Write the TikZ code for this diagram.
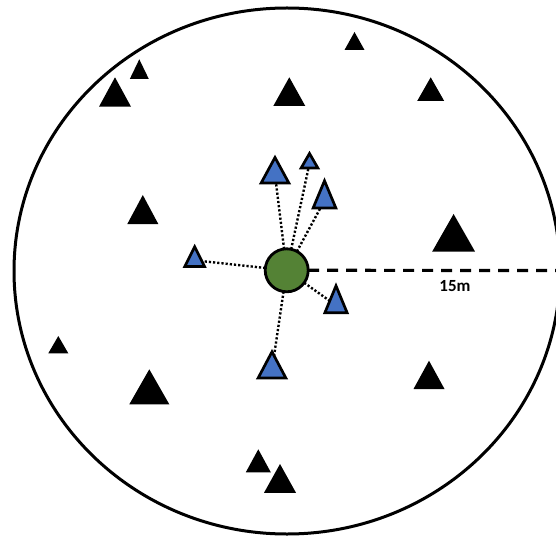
\documentclass[tikz,border=0pt]{standalone}
\usepackage{fontspec}
\setmainfont{Carlito}
\usetikzlibrary{shapes.geometric}
\definecolor{triblue}{HTML}{4472C4}
\definecolor{hubgreen}{HTML}{548235}
\tikzset{
  tri/.style 2 args={isosceles triangle, isosceles triangle stretches,
    shape border rotate=90, minimum width=#1, minimum height=#2,
    inner sep=0pt, outer sep=0pt, anchor=apex},
  sensor/.style 2 args={tri={#1}{#2}, fill=triblue, draw=black, line width=2.7pt, miter limit=10},
  tree/.style 2 args={tri={#1}{#2}, fill=black},
  hub/.style={circle, fill=hubgreen, draw=black, line width=2.8pt, minimum size=43pt, inner sep=0pt, outer sep=0pt},
  link/.style={line width=2.4pt, dash pattern=on 2.2pt off 2pt},
  radius line/.style={line width=3.2pt, dash pattern=on 11pt off 8pt},
  boundary/.style={line width=3pt},
}
\begin{document}
\begin{tikzpicture}[x=1pt, y=-1pt]
\useasboundingbox (0,0) rectangle (556,537);
\fill[white] (0,0) rectangle (556,537);
% plot boundary
\draw[boundary] (287,271) ellipse [x radius=273pt, y radius=263pt];
% trees
\node[tree={20pt}{18pt}] (k1) at (354.5,32) {};
\node[tree={19pt}{19.7pt}] (k2) at (139.3,59.3) {};
\node[tree={32pt}{29.4pt}] (k3) at (115,77.3) {};
\node[tree={32pt}{28.7pt}] (k4) at (289.3,77.3) {};
\node[tree={27pt}{23.7pt}] (k5) at (430.7,77.3) {};
\node[tree={31pt}{29pt}] (k6) at (142.8,195) {};
\node[tree={43pt}{37.7pt}] (k7) at (453.6,214) {};
\node[tree={20pt}{17.3pt}] (k8) at (58.3,336) {};
\node[tree={40pt}{35pt}] (k9) at (149.3,369.3) {};
\node[tree={31pt}{28.3pt}] (k10) at (429,360.7) {};
\node[tree={25pt}{23pt}] (k11) at (258.3,449.3) {};
\node[tree={32pt}{28.8pt}] (k12) at (280,464) {};
% hub
\node[hub] (g) at (286.7,270.3) {};
% sensors
\node[sensor={27.7pt}{25.5pt}] (b1) at (275,157.5) {};
\node[sensor={16.7pt}{14.5pt}] (b2) at (309.5,153.5) {};
\node[sensor={22.7pt}{27.2pt}] (b3) at (324.5,180.8) {};
\node[sensor={19.7pt}{19.6pt}] (b4) at (194.7,246.8) {};
\node[sensor={22.3pt}{27pt}] (b5) at (336,285.8) {};
\node[sensor={27.7pt}{26.2pt}] (b6) at (272,351.8) {};
% links
\draw[link] (g) -- (b1);
\draw[link] (g) -- (b2);
\draw[link] (g) -- (b3);
\draw[link] (g) -- (b4);
\draw[link] (g) -- (b5);
\draw[link] (g) -- (b6);
% radius
\coordinate (rend) at (562,270.5);
\draw[radius line] (g.east) -- (rend);
\node[font=\bfseries\fontsize{17}{20}\selectfont, inner sep=0pt] (lbl) at (455,286) {15m};
\end{tikzpicture}
\end{document}
